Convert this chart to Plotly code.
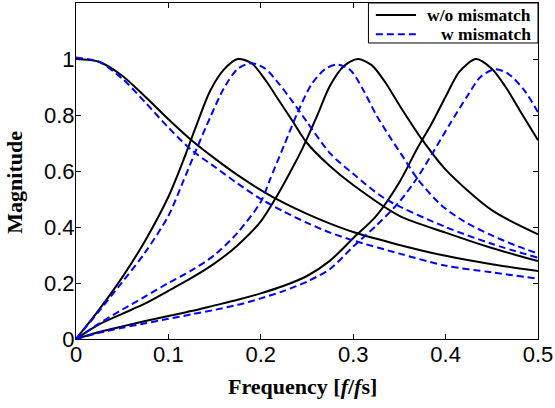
import plotly.graph_objects as go

# ---------------- data ----------------
x_ticks = [0, 0.1, 0.2, 0.3, 0.4, 0.5]
x_tick_text = ["0", "0.1", "0.2", "0.3", "0.4", "0.5"]
y_ticks = [0, 0.2, 0.4, 0.6, 0.8, 1.0]
y_tick_text = ["0", "0.2", "0.4", "0.6", "0.8", "1"]

# w/o mismatch (black, solid)
bk_lp_x = [0, 0.025, 0.05, 0.075, 0.1, 0.125, 0.15, 0.175, 0.2, 0.225, 0.25, 0.275, 0.3, 0.35, 0.4, 0.45, 0.5]
bk_lp_y = [1.0, 0.99, 0.94, 0.865, 0.785, 0.71, 0.645, 0.585, 0.532, 0.486, 0.447, 0.412, 0.382, 0.336, 0.297, 0.267, 0.243]

bk_p1_x = [0, 0.025, 0.05, 0.075, 0.1, 0.115, 0.13, 0.145, 0.16, 0.175, 0.19, 0.205, 0.22, 0.235, 0.25, 0.275, 0.3, 0.35, 0.4, 0.45, 0.5]
bk_p1_y = [0, 0.105, 0.22, 0.352, 0.508, 0.628, 0.76, 0.885, 0.962, 1.0, 0.985, 0.925, 0.85, 0.775, 0.70, 0.617, 0.55, 0.44, 0.38, 0.325, 0.278]

bk_p2_x = [0, 0.025, 0.05, 0.075, 0.1, 0.125, 0.15, 0.175, 0.2, 0.215, 0.23, 0.245, 0.26, 0.275, 0.29, 0.305, 0.32, 0.335, 0.35, 0.375, 0.4, 0.45, 0.5]
bk_p2_y = [0, 0.052, 0.09, 0.127, 0.172, 0.218, 0.27, 0.335, 0.42, 0.497, 0.585, 0.68, 0.79, 0.905, 0.975, 1.0, 0.978, 0.915, 0.835, 0.71, 0.605, 0.46, 0.374]

bk_p3_x = [0, 0.025, 0.05, 0.075, 0.1, 0.125, 0.15, 0.175, 0.2, 0.225, 0.25, 0.275, 0.3, 0.325, 0.35, 0.37, 0.385, 0.4, 0.415, 0.433, 0.45, 0.465, 0.48, 0.5]
bk_p3_y = [0, 0.025, 0.045, 0.064, 0.082, 0.1, 0.12, 0.14, 0.163, 0.19, 0.225, 0.28, 0.36, 0.44, 0.56, 0.685, 0.77, 0.865, 0.955, 1.0, 0.965, 0.9, 0.818, 0.71]

# w mismatch (blue, dashed)
bl_lp_x = [0, 0.025, 0.05, 0.075, 0.1, 0.125, 0.15, 0.175, 0.2, 0.225, 0.25, 0.275, 0.3, 0.35, 0.4, 0.45, 0.5]
bl_lp_y = [1.005, 0.99, 0.93, 0.845, 0.755, 0.675, 0.615, 0.555, 0.50, 0.455, 0.415, 0.38, 0.352, 0.305, 0.262, 0.238, 0.215]

bl_p1_x = [0, 0.025, 0.05, 0.075, 0.1, 0.115, 0.13, 0.145, 0.16, 0.175, 0.19, 0.205, 0.22, 0.235, 0.25, 0.275, 0.3, 0.335, 0.4, 0.45, 0.5]
bl_p1_y = [0, 0.1, 0.203, 0.31, 0.44, 0.555, 0.675, 0.79, 0.895, 0.965, 0.985, 0.965, 0.91, 0.845, 0.775, 0.663, 0.59, 0.50, 0.40, 0.34, 0.29]

bl_p2_x = [0, 0.025, 0.05, 0.075, 0.1, 0.125, 0.15, 0.175, 0.2, 0.21, 0.225, 0.24, 0.255, 0.27, 0.283, 0.297, 0.31, 0.325, 0.34, 0.355, 0.37, 0.395, 0.42, 0.45, 0.475, 0.5]
bl_p2_y = [0, 0.055, 0.105, 0.152, 0.2, 0.245, 0.3, 0.38, 0.49, 0.57, 0.69, 0.81, 0.91, 0.965, 0.98, 0.96, 0.895, 0.80, 0.72, 0.645, 0.57, 0.479, 0.42, 0.37, 0.335, 0.305]

bl_p3_x = [0, 0.025, 0.05, 0.075, 0.1, 0.125, 0.15, 0.175, 0.2, 0.225, 0.25, 0.275, 0.3, 0.325, 0.35, 0.369, 0.387, 0.405, 0.423, 0.438, 0.453, 0.467, 0.485, 0.5]
bl_p3_y = [0, 0.022, 0.04, 0.056, 0.072, 0.088, 0.104, 0.122, 0.145, 0.172, 0.205, 0.25, 0.33, 0.405, 0.49, 0.574, 0.67, 0.77, 0.865, 0.937, 0.963, 0.949, 0.889, 0.81]

legend_labels = ["w/o mismatch", "w mismatch"]

# ---------------- figure ----------------
BLACK = "#000000"
BLUE = "#0000FF"

fig = go.Figure()

black_series = [(bk_lp_x, bk_lp_y), (bk_p1_x, bk_p1_y), (bk_p2_x, bk_p2_y), (bk_p3_x, bk_p3_y)]
blue_series = [(bl_lp_x, bl_lp_y), (bl_p1_x, bl_p1_y), (bl_p2_x, bl_p2_y), (bl_p3_x, bl_p3_y)]

for xs, ys in black_series:
    fig.add_trace(go.Scatter(x=xs, y=ys, mode="lines",
                             line=dict(color=BLACK, width=2, shape="spline", smoothing=0.8),
                             showlegend=False, hoverinfo="skip"))
for xs, ys in blue_series:
    fig.add_trace(go.Scatter(x=xs, y=ys, mode="lines",
                             line=dict(color=BLUE, width=2, dash="7px,4px", shape="spline", smoothing=0.8),
                             showlegend=False, hoverinfo="skip"))

axis_common = dict(showline=True, linecolor="black", linewidth=1, mirror="ticks",
                   ticks="inside", ticklen=5, tickcolor="black", tickwidth=1,
                   showgrid=False, zeroline=False, automargin=False,
                   tickfont=dict(family="Liberation Sans, Arial", size=22, color="black"))

fig.update_xaxes(range=[0, 0.5], tickvals=x_ticks, ticktext=x_tick_text,
                 ticklabelstandoff=-4, **axis_common)
fig.update_yaxes(range=[0, 1.2], tickvals=y_ticks, ticktext=y_tick_text,
                 ticklabelstandoff=-4, **axis_common)

title_font = dict(family="Liberation Serif, Times New Roman", size=22, color="black")
fig.add_annotation(text="<b>Frequency [<i>f</i>/<i>f</i>s]</b>", xref="paper", yref="paper",
                   x=0.49, y=-0.141, xanchor="center", yanchor="middle", showarrow=False,
                   font=title_font)
fig.add_annotation(text="<b>Magnitude</b>", xref="paper", yref="paper", textangle=-90,
                   x=-0.135, y=0.467, xanchor="center", yanchor="middle", showarrow=False,
                   font=title_font)

# manual legend (box, line samples, right-aligned labels)
fig.add_shape(type="rect", xref="paper", yref="paper", x0=0.633, x1=1.0, y0=0.881, y1=1.0,
              line=dict(color="black", width=1), fillcolor="white", layer="above")
fig.add_shape(type="line", xref="paper", yref="paper", x0=0.649, x1=0.736, y0=0.964, y1=0.964,
              line=dict(color=BLACK, width=2), layer="above")
fig.add_shape(type="line", xref="paper", yref="paper", x0=0.649, x1=0.736, y0=0.907, y1=0.907,
              line=dict(color=BLUE, width=2, dash="7px,4px"), layer="above")
leg_font = dict(family="Liberation Serif, Times New Roman", size=17.5, color="black")
fig.add_annotation(text="<b>%s</b>" % legend_labels[0], xref="paper", yref="paper",
                   x=0.99, y=0.964, xanchor="right", yanchor="middle", showarrow=False, font=leg_font)
fig.add_annotation(text="<b>%s</b>" % legend_labels[1], xref="paper", yref="paper",
                   x=0.99, y=0.907, xanchor="right", yanchor="middle", showarrow=False, font=leg_font)

fig.update_layout(width=555, height=408, autosize=False,
                  margin=dict(l=76, r=17, t=3, b=69),
                  paper_bgcolor="white", plot_bgcolor="white", showlegend=False)

# remove the browser's default 8px body margin so the figure sits at the page origin
fig.write_html("out.html", config={"displayModeBar": False},
               post_script="document.body.style.margin='0';document.body.style.overflow='hidden';")
